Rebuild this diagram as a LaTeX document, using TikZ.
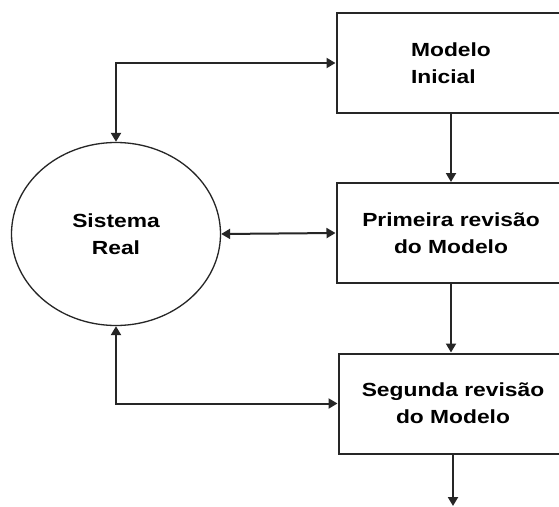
\documentclass[tikz,border=0pt]{standalone}
\usepackage{fontspec}
\usetikzlibrary{arrows.meta,shapes.geometric}
\newfontfamily\lblfont[FakeStretch=1.2]{Liberation Sans}
\begin{document}
\begin{tikzpicture}[x=1pt,y=-1pt,
  line/.style={line width=2pt,draw=black!85},
  tip/.style={-{Triangle[length=9pt,width=10pt]}},
  twotips/.style={{Triangle[length=9pt,width=10pt]}-{Triangle[length=9pt,width=10pt]}},
  lbl/.style={font=\lblfont\bfseries\fontsize{19}{27}\selectfont,text=black},
  stage/.style={lbl,line,rectangle,minimum width=229pt,minimum height=100pt,
    inner sep=0pt,align=center},
  system/.style={lbl,ellipse,draw=black!85,line width=1.3pt,minimum width=209pt,
    minimum height=183pt,inner sep=0pt,align=center}]
\useasboundingbox (0,0) rectangle (559,506);
\fill[white] (0,0) rectangle (559,506);
\clip (0,0) rectangle (559,506);

% model stages, running off the right-hand edge
\node[stage,align=left] (b1) at (451,63) {Modelo\\Inicial};
\node[stage] (b2) at (451,233) {Primeira revisão\\do Modelo};
\node[stage] (b3) at (453,403.5) {Segunda revisão\\do Modelo};

% the real system
\node[system] (sys) at (116,234) {Sistema\\Real};

\coordinate (next) at (453,506);

% flow between the stages
\draw[line,tip] (b1.south) -- (b2.north);
\draw[line,tip] (b2.south) -- (b2.south |- b3.north);
\draw[line,tip] (b3.south) -- (next);

% exchanges with the real system
\draw[line,twotips] (sys.north) |- (b1.west);
\draw[line,twotips] (sys.east) -- (b2.west);
\draw[line,twotips] (sys.south) |- (b3.west);
\end{tikzpicture}
\end{document}
